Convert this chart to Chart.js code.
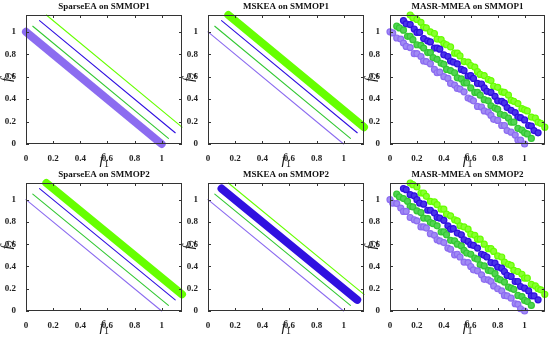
<!DOCTYPE html>
<html>
<head>
<meta charset="utf-8">
<script src="https://cdn.jsdelivr.net/npm/chart.js@4"></script>
<style>
  html, body { margin: 0; padding: 0; background: #fff; }
  #wrap { position: relative; width: 550px; height: 339px; overflow: hidden; }
  #wrap canvas { position: absolute; }
</style>
</head>
<body>
<div id="wrap"></div>
<script>
// ====== Dados ======
const panelTitles = [
    "SparseEA on SMMOP1", "MSKEA on SMMOP1", "MASR-MMEA on SMMOP1",
    "SparseEA on SMMOP2", "MSKEA on SMMOP2", "MASR-MMEA on SMMOP2"
];
const tickValues = [0, 0.2, 0.4, 0.6, 0.8, 1];
const tickLabels = ["0", "0.2", "0.4", "0.6", "0.8", "1"];
const axisMax = 1.15;

// four true Pareto fronts: start and end points (f1, f2)
const frontStart = [[0, 1], [0.05, 1.05], [0.1, 1.1], [0.15, 1.15]];
const frontEnd = [[1, 0], [1.05, 0.05], [1.1, 0.1], [1.15, 0.15]];
const frontColors = ["#8c6cf0", "#33c833", "#3010e0", "#66ff00"];
const frontFills = ["#a08af4", "#52d452", "#4a34e8", "#88ff30"];

// which front the algorithm found (thick) per panel, -1 = scatter of all
const thickFront = [0, 3, -1, 3, 2, -1];

// MASR-MMEA points: f1 shared, f2 per problem
const masrF1 = [
    [0, 0.02, 0.05, 0.08, 0.1, 0.12, 0.15, 0.18, 0.2, 0.23, 0.25, 0.27, 0.3, 0.33, 0.35, 0.37, 0.4, 0.43, 0.45, 0.48, 0.5, 0.52, 0.55, 0.58, 0.6, 0.62, 0.65, 0.68, 0.7, 0.73, 0.75, 0.77, 0.8, 0.83, 0.85, 0.87, 0.9, 0.93, 0.95, 0.97, 1.0],
    [0.05, 0.07, 0.1, 0.13, 0.15, 0.17, 0.2, 0.23, 0.25, 0.28, 0.3, 0.32, 0.35, 0.38, 0.4, 0.42, 0.45, 0.48, 0.5, 0.53, 0.55, 0.57, 0.6, 0.63, 0.65, 0.67, 0.7, 0.73, 0.75, 0.78, 0.8, 0.82, 0.85, 0.88, 0.9, 0.92, 0.95, 0.98, 1.0, 1.02, 1.05],
    [0.1, 0.12, 0.15, 0.18, 0.2, 0.22, 0.25, 0.28, 0.3, 0.33, 0.35, 0.37, 0.4, 0.43, 0.45, 0.47, 0.5, 0.53, 0.55, 0.58, 0.6, 0.62, 0.65, 0.68, 0.7, 0.72, 0.75, 0.78, 0.8, 0.83, 0.85, 0.87, 0.9, 0.93, 0.95, 0.97, 1.0, 1.03, 1.05, 1.07, 1.1],
    [0.15, 0.17, 0.2, 0.23, 0.25, 0.27, 0.3, 0.33, 0.35, 0.38, 0.4, 0.42, 0.45, 0.48, 0.5, 0.52, 0.55, 0.58, 0.6, 0.63, 0.65, 0.67, 0.7, 0.73, 0.75, 0.77, 0.8, 0.83, 0.85, 0.88, 0.9, 0.92, 0.95, 0.98, 1.0, 1.02, 1.05, 1.08, 1.1, 1.12, 1.15]
];
const masrF2P1 = [
    [1.0, 0.99, 0.945, 0.935, 0.9, 0.87, 0.86, 0.805, 0.805, 0.78, 0.74, 0.735, 0.715, 0.665, 0.635, 0.64, 0.6, 0.585, 0.54, 0.525, 0.495, 0.49, 0.465, 0.41, 0.4, 0.385, 0.335, 0.33, 0.295, 0.285, 0.255, 0.22, 0.21, 0.165, 0.165, 0.12, 0.105, 0.08, 0.035, 0.035, 0.0],
    [1.05, 1.035, 1.015, 0.96, 0.96, 0.93, 0.885, 0.88, 0.855, 0.815, 0.815, 0.77, 0.755, 0.72, 0.71, 0.665, 0.655, 0.635, 0.59, 0.58, 0.545, 0.545, 0.5, 0.46, 0.46, 0.435, 0.395, 0.385, 0.34, 0.32, 0.31, 0.265, 0.255, 0.23, 0.195, 0.195, 0.14, 0.125, 0.1, 0.09, 0.05],
    [1.1, 1.07, 1.065, 1.025, 0.995, 0.995, 0.94, 0.92, 0.91, 0.855, 0.855, 0.845, 0.795, 0.78, 0.74, 0.73, 0.715, 0.665, 0.655, 0.605, 0.61, 0.585, 0.54, 0.535, 0.5, 0.47, 0.46, 0.425, 0.385, 0.38, 0.365, 0.325, 0.3, 0.28, 0.24, 0.235, 0.215, 0.165, 0.16, 0.12, 0.1],
    [1.15, 1.125, 1.11, 1.085, 1.04, 1.035, 1.0, 0.985, 0.935, 0.93, 0.895, 0.885, 0.865, 0.81, 0.81, 0.785, 0.735, 0.73, 0.7, 0.685, 0.645, 0.62, 0.61, 0.575, 0.565, 0.515, 0.505, 0.465, 0.46, 0.435, 0.39, 0.38, 0.36, 0.315, 0.305, 0.295, 0.24, 0.23, 0.195, 0.185, 0.15]
];
const masrF2P2 = [
    [1.0, 0.97, 0.965, 0.925, 0.895, 0.895, 0.84, 0.82, 0.81, 0.755, 0.755, 0.745, 0.695, 0.68, 0.64, 0.63, 0.615, 0.565, 0.555, 0.505, 0.51, 0.485, 0.44, 0.435, 0.4, 0.37, 0.36, 0.325, 0.285, 0.28, 0.265, 0.225, 0.2, 0.18, 0.14, 0.135, 0.115, 0.065, 0.06, 0.02, 0.0],
    [1.05, 1.025, 1.01, 0.985, 0.94, 0.935, 0.9, 0.885, 0.835, 0.83, 0.795, 0.785, 0.765, 0.71, 0.71, 0.685, 0.635, 0.63, 0.6, 0.585, 0.545, 0.52, 0.51, 0.475, 0.465, 0.415, 0.405, 0.365, 0.36, 0.335, 0.29, 0.28, 0.26, 0.215, 0.205, 0.195, 0.14, 0.13, 0.095, 0.085, 0.05],
    [1.1, 1.09, 1.045, 1.035, 1.0, 0.97, 0.96, 0.905, 0.905, 0.88, 0.84, 0.835, 0.815, 0.765, 0.735, 0.74, 0.7, 0.685, 0.64, 0.625, 0.595, 0.59, 0.565, 0.51, 0.5, 0.485, 0.435, 0.43, 0.395, 0.385, 0.355, 0.32, 0.31, 0.265, 0.265, 0.22, 0.205, 0.18, 0.135, 0.135, 0.1],
    [1.15, 1.135, 1.115, 1.06, 1.06, 1.03, 0.985, 0.98, 0.955, 0.915, 0.915, 0.87, 0.855, 0.82, 0.81, 0.765, 0.755, 0.735, 0.69, 0.68, 0.645, 0.645, 0.6, 0.56, 0.56, 0.535, 0.495, 0.485, 0.44, 0.42, 0.41, 0.365, 0.355, 0.33, 0.295, 0.295, 0.24, 0.225, 0.2, 0.19, 0.15]
];

// ====== Layout ======
const plotLeft = [26, 208, 390];
const plotRight = [182, 364, 545];
const rowTop = [0, 168];
const rowHeight = [170, 171];
const titleSpace = 15;
const xAxisHeight = [26, 28];
const xLabelY = [160, 159];
const yAxisWidth = 26;
const serif = "'Liberation Serif', 'Times New Roman', serif";

// ====== Moldura, ticks internos, títulos ======
function drawSubLabel(ctx, base, sub, x, y) {
    ctx.font = "italic 15px " + serif;
    const w1 = ctx.measureText(base).width;
    ctx.font = "10px " + serif;
    const w2 = ctx.measureText(sub).width;
    const x0 = x - (w1 + w2) / 2;
    ctx.textAlign = "left";
    ctx.textBaseline = "middle";
    ctx.font = "italic 15px " + serif;
    ctx.fillText(base, x0, y);
    ctx.font = "10px " + serif;
    ctx.fillText(sub, x0 + w1 + 0.5, y + 4);
}

const framePlugin = {
    id: "frame",
    afterDraw(chart) {
        const { ctx, chartArea: a, scales: { x, y } } = chart;
        const opts = chart.options.plugins.frame;
        ctx.save();
        ctx.strokeStyle = "#333";
        ctx.lineWidth = 1;
        ctx.strokeRect(Math.round(a.left) + 0.5, Math.round(a.top) + 0.5,
            Math.round(a.right - a.left) - 1, Math.round(a.bottom - a.top) - 1);
        ctx.beginPath();
        tickValues.forEach(v => {
            const px = Math.round(x.getPixelForValue(v)) + 0.5;
            const py = Math.round(y.getPixelForValue(v)) + 0.5;
            ctx.moveTo(px, a.bottom); ctx.lineTo(px, a.bottom - 3);
            ctx.moveTo(px, a.top); ctx.lineTo(px, a.top + 3);
            ctx.moveTo(a.left, py); ctx.lineTo(a.left + 3, py);
            ctx.moveTo(a.right, py); ctx.lineTo(a.right - 3, py);
        });
        ctx.stroke();

        const cx = (a.left + a.right) / 2;
        ctx.fillStyle = "#111";
        ctx.font = "bold 9px " + serif;
        ctx.textAlign = "center";
        ctx.textBaseline = "middle";
        ctx.fillText(opts.title, cx, 7);

        ctx.fillStyle = "#1a1a1a";
        drawSubLabel(ctx, "f", "1", cx, opts.xLabelY);
        ctx.translate(7, (a.top + a.bottom) / 2 - 2);
        ctx.rotate(-Math.PI / 2);
        drawSubLabel(ctx, "f", "2", 0, 0);
        ctx.restore();
    }
};

function buildDatasets(panel) {
    const thick = thickFront[panel];
    if (thick === -1) {
        const f2 = panel < 3 ? masrF2P1 : masrF2P2;
        return masrF1.map((xs, k) => ({
            data: xs.map((v, i) => ({ x: v, y: f2[k][i] })),
            pointRadius: 3,
            pointBorderWidth: 1.2,
            borderColor: frontColors[k],
            backgroundColor: frontFills[k],
            showLine: false,
            clip: false
        }));
    }
    const sets = frontStart.map((s, k) => ({
        data: [{ x: s[0], y: s[1] }, { x: frontEnd[k][0], y: frontEnd[k][1] }],
        showLine: true,
        pointRadius: 0,
        borderColor: frontColors[k],
        borderWidth: k === thick ? 8 : 1.1,
        borderCapStyle: "round",
        clip: false
    }));
    // thick one drawn on top
    return sets.filter((_, k) => k !== thick).concat([sets[thick]]);
}

const tickFont = { family: serif, size: 9, weight: "bold" };
const wrap = document.getElementById("wrap");

panelTitles.forEach((title, p) => {
    const row = Math.floor(p / 3), col = p % 3;
    const canvas = document.createElement("canvas");
    const left = plotLeft[col] - yAxisWidth;
    const width = plotRight[col] - left + 5;
    canvas.width = width;
    canvas.height = rowHeight[row];
    canvas.style.left = left + "px";
    canvas.style.top = rowTop[row] + "px";
    wrap.appendChild(canvas);

    new Chart(canvas, {
        type: "scatter",
        data: { datasets: buildDatasets(p) },
        plugins: [framePlugin],
        options: {
            responsive: false,
            animation: false,
            layout: { padding: { left: 0, right: 5, top: titleSpace, bottom: 0 } },
            plugins: {
                legend: { display: false },
                tooltip: { enabled: false },
                title: { display: false },
                frame: { title: title, xLabelY: xLabelY[row] }
            },
            scales: {
                x: {
                    type: "linear",
                    min: 0, max: axisMax,
                    grid: { display: false },
                    border: { display: false },
                    afterBuildTicks: s => { s.ticks = tickValues.map(v => ({ value: v })); },
                    afterFit: s => { s.height = xAxisHeight[row]; },
                    ticks: {
                        color: "#222", font: tickFont, padding: 1, maxRotation: 0,
                        callback: (v, i) => tickLabels[i]
                    }
                },
                y: {
                    type: "linear",
                    min: 0, max: axisMax,
                    grid: { display: false },
                    border: { display: false },
                    afterBuildTicks: s => { s.ticks = tickValues.map(v => ({ value: v })); },
                    afterFit: s => { s.width = yAxisWidth; },
                    ticks: {
                        color: "#222", font: tickFont, padding: 2,
                        callback: (v, i) => tickLabels[i]
                    }
                }
            }
        }
    });
});
</script>
</body>
</html>
